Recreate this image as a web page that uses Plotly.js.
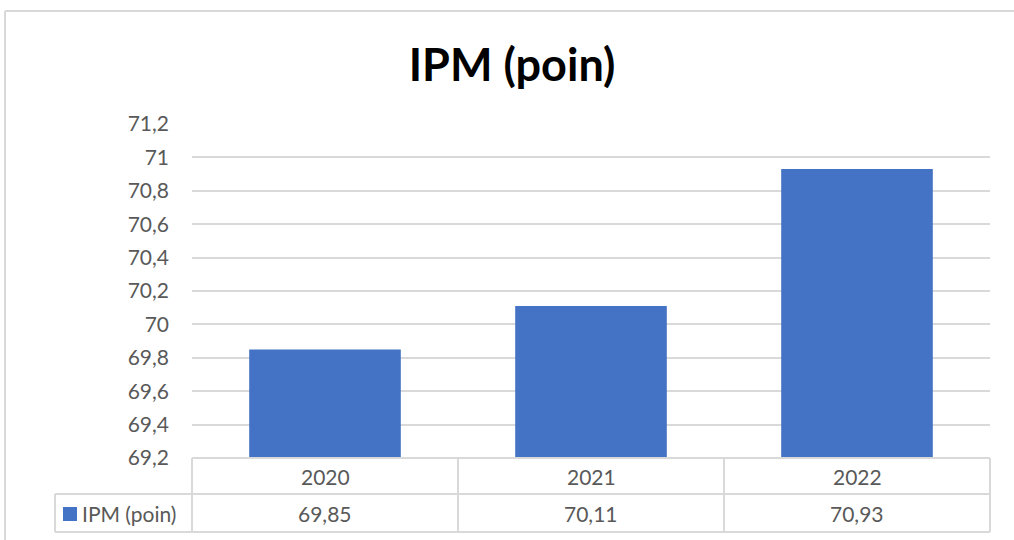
<!DOCTYPE html>
<html><head><meta charset="utf-8">
<script src="https://cdn.plot.ly/plotly-3.0.1.min.js"></script>
<style>html,body{margin:0;padding:0;background:#fff}#c{width:1014px;height:540px}</style>
</head><body><div id="c"></div>
<script>
const categories = ['2020', '2021', '2022'];
const values = [69.85, 70.11, 70.93];
const seriesName = 'IPM (poin)';
const titleText = 'IPM (poin)';
const yTickVals = [69.2, 69.4, 69.6, 69.8, 70, 70.2, 70.4, 70.6, 70.8, 71, 71.2];
const yTickLabels = ['69,2', '69,4', '69,6', '69,8', '70', '70,2', '70,4', '70,6', '70,8', '71', '71,2'];

const W = 1014, H = 540;
const L = 192, R = 990, T = 124, B = 458;
const pw = R - L, ph = B - T;
const px = x => (x - L) / pw;
const py = y => (B - y) / ph;
const grid = '#d9d9d9';
const txt = '#595959';
const font = 'Lato, "Open Sans", sans-serif';
const fs = 21;

const shapes = [];
const annotations = [];
// outer chart border
shapes.push({type:'line', xref:'paper', yref:'paper', x0:px(5), x1:px(5), y0:py(11), y1:py(560), line:{color:grid, width:2}});
shapes.push({type:'line', xref:'paper', yref:'paper', x0:px(5), x1:px(1030), y0:py(11), y1:py(11), line:{color:grid, width:2}});
// data table lines
const rowTop = B, rowMid = 494, rowBot = 532, legL = 55;
shapes.push({type:'line', xref:'paper', yref:'paper', x0:px(L), x1:px(R), y0:py(rowTop), y1:py(rowTop), line:{color:grid, width:2}});
shapes.push({type:'line', xref:'paper', yref:'paper', x0:px(legL), x1:px(R), y0:py(rowMid), y1:py(rowMid), line:{color:grid, width:2}});
shapes.push({type:'line', xref:'paper', yref:'paper', x0:px(legL), x1:px(R), y0:py(rowBot), y1:py(rowBot), line:{color:grid, width:2}});
shapes.push({type:'line', xref:'paper', yref:'paper', x0:px(legL), x1:px(legL), y0:py(rowMid), y1:py(rowBot), line:{color:grid, width:2}});
shapes.push({type:'line', xref:'paper', yref:'paper', x0:px(L), x1:px(L), y0:py(rowTop), y1:py(rowBot), line:{color:grid, width:2}});
shapes.push({type:'line', xref:'paper', yref:'paper', x0:px(R), x1:px(R), y0:py(rowTop), y1:py(rowBot), line:{color:grid, width:2}});
for (let i = 0; i < categories.length; i++) {
  if (i < categories.length - 1) {
    shapes.push({type:'line', xref:'x', yref:'paper', x0:i+0.5, x1:i+0.5, y0:py(rowTop), y1:py(rowBot), line:{color:grid, width:2}});
  }
  annotations.push({xref:'x', yref:'paper', x:i, y:py((rowTop+rowMid)/2), text:categories[i], showarrow:false, yanchor:'middle', xanchor:'center', font:{family:font, size:fs, color:txt}});
  annotations.push({xref:'x', yref:'paper', x:i, y:py((rowMid+rowBot)/2), text:values[i].toFixed(2).replace('.', ','), showarrow:false, yanchor:'middle', xanchor:'center', font:{family:font, size:fs, color:txt}});
}
// legend key in table
shapes.push({type:'rect', xref:'paper', yref:'paper', x0:px(63), x1:px(77), y0:py(521), y1:py(507), fillcolor:'#4472C4', line:{width:0}});
annotations.push({xref:'paper', yref:'paper', x:px(80), y:py((rowMid+rowBot)/2), text:seriesName, showarrow:false, xanchor:'left', yanchor:'middle', font:{family:font, size:fs, color:txt}});

const data = [{
  type:'bar', x:categories, y:values, name:seriesName,
  marker:{color:'#4472C4'}, hoverinfo:'x+y'
}];

const layout = {
  width:W, height:H,
  margin:{l:L, r:W-R, t:T, b:H-B, pad:0},
  paper_bgcolor:'#fff', plot_bgcolor:'#fff',
  showlegend:false,
  bargap:0.43,
  title:{text:'<b>'+titleText+'</b>', x:0.505, xanchor:'center', y:1-65/H, yanchor:'middle', yref:'container', font:{family:font, size:45, color:'#000'}},
  xaxis:{type:'category', range:[-0.5, 2.5], showticklabels:false, showgrid:false, zeroline:false, showline:false, ticks:''},
  yaxis:{range:[69.2, 71.2], tickvals:yTickVals, ticktext:yTickLabels, showgrid:true, gridcolor:grid, gridwidth:2, zeroline:false, showline:false, ticks:'', ticklabelstandoff:22, tickfont:{family:font, size:fs, color:txt}},
  shapes:shapes, annotations:annotations
};
Plotly.newPlot('c', data, layout, {displayModeBar:false, staticPlot:true});
</script></body></html>
